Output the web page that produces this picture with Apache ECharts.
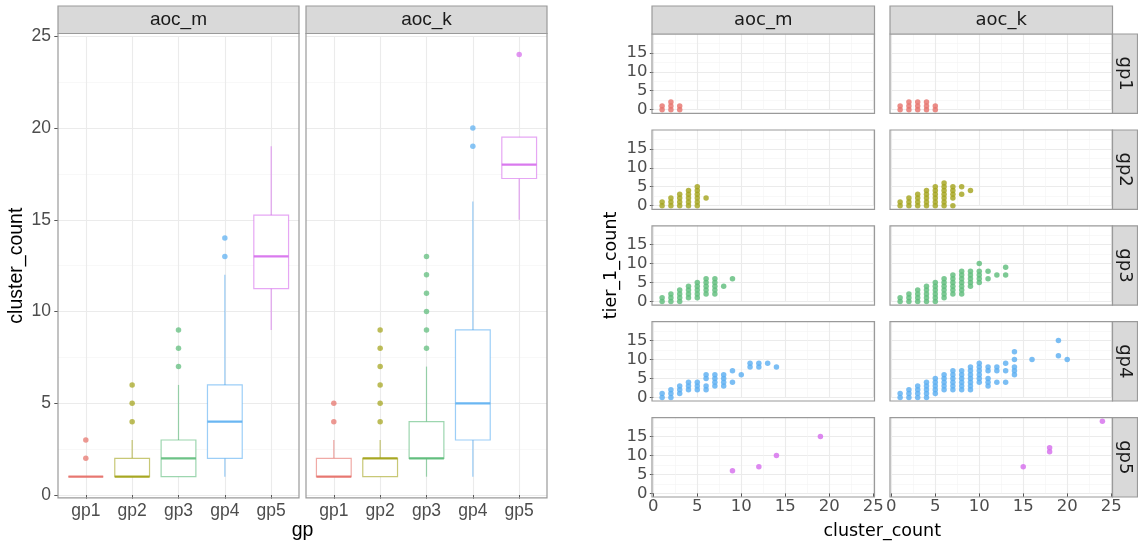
<!DOCTYPE html>
<html><head><meta charset="utf-8">
<script src="https://cdn.jsdelivr.net/npm/echarts@6/dist/echarts.min.js"></script>
<style>html,body{margin:0;padding:0;background:#fff}#c{width:1138px;height:547px}</style>
</head><body><div id="c"></div>
<script>
// ---------------- DATA ----------------
const groups = ['gp1','gp2','gp3','gp4','gp5'];
const facets = ['aoc_m','aoc_k'];
const groupColors = ['#E6716A','#A3A31A','#5CBB79','#5AAEF1','#D56CEC'];
const boxYTicks = [0,5,10,15,20,25];
const scatterXTicks = [0,5,10,15,20,25];
const scatterYTicks = [0,5,10,15];

// boxplot stats per group: [lower whisker, Q1, median, Q3, upper whisker]
const boxAocM = [[1,1,1,1,1],[1,1,1,2,3],[1,1,2,3,6],[1,2,4,6,12],[9,11.25,13,15.25,19]];
const boxAocK = [[1,1,1,2,3],[1,1,2,2,3],[1,2,2,4,7],[1,3,5,9,16],[15,17.25,18,19.5,19.5]];
// outliers: [group index, cluster_count]
const outAocM = [[0,2],[0,3],[1,4],[1,5],[1,6],[2,7],[2,8],[2,9],[3,13],[3,14]];
const outAocK = [[0,4],[0,5],[1,4],[1,5],[1,6],[1,7],[1,8],[1,9],[2,8],[2,9],[2,10],[2,11],[2,12],[2,13],[3,19],[3,20],[4,24]];

// scatter: [cluster_count, tier_1_count]
const m_gp1 = [[1,0],[1,1],[2,0],[2,1],[2,2],[3,0],[3,1]];
const k_gp1 = [[1,0],[1,1],[2,0],[2,1],[2,2],[3,0],[3,1],[3,2],[4,0],[4,1],[4,2],[5,0],[5,1]];
const m_gp2 = [[1,0],[1,1],[2,0],[2,1],[2,2],[3,0],[3,1],[3,2],[3,3],[4,0],[4,1],[4,2],[4,3],[4,4],
  [5,0],[5,1],[5,2],[5,3],[5,4],[5,5],[6,2]];
const k_gp2 = [[1,0],[1,1],[2,0],[2,1],[2,2],[3,0],[3,1],[3,2],[3,3],[4,0],[4,1],[4,2],[4,3],[4,4],
  [5,0],[5,1],[5,2],[5,3],[5,4],[5,5],[6,0],[6,1],[6,2],[6,3],[6,4],[6,5],[6,6],
  [7,0],[7,2],[7,3],[7,4],[7,5],[8,3],[8,5],[9,4]];
const m_gp3 = [[1,0],[1,1],[2,0],[2,1],[2,2],[3,0],[3,1],[3,2],[3,3],[4,1],[4,2],[4,3],[4,4],
  [5,1],[5,2],[5,3],[5,4],[5,5],[6,2],[6,3],[6,4],[6,5],[6,6],[7,2],[7,3],[7,4],[7,5],[7,6],[8,4],[9,6]];
const k_gp3 = [[1,0],[1,1],[2,0],[2,1],[2,2],[3,0],[3,1],[3,2],[3,3],[4,0],[4,1],[4,2],[4,3],[4,4],
  [5,0],[5,1],[5,2],[5,3],[5,4],[5,5],[6,1],[6,2],[6,3],[6,4],[6,5],[6,6],
  [7,2],[7,3],[7,4],[7,5],[7,6],[7,7],[8,2],[8,3],[8,4],[8,5],[8,6],[8,7],[8,8],
  [9,4],[9,5],[9,6],[9,7],[9,8],[10,5],[10,6],[10,7],[10,8],[10,10],[11,6],[11,8],[12,7],[13,7],[13,9]];
const m_gp4 = [[1,0],[1,1],[2,0],[2,1],[2,2],[3,1],[3,2],[3,3],[4,2],[4,3],[4,4],[5,2],[5,3],[5,4],
  [6,2],[6,3],[6,5],[6,6],[7,3],[7,4],[7,5],[7,6],[8,3],[8,4],[8,5],[8,6],[9,4],[9,7],[10,6],
  [11,8],[11,9],[12,8],[12,9],[13,9],[14,8]];
const k_gp4 = [[1,0],[1,1],[2,0],[2,1],[2,2],[3,0],[3,1],[3,2],[3,3],[4,0],[4,1],[4,2],[4,3],[4,4],
  [5,1],[5,2],[5,3],[5,4],[5,5],[6,2],[6,3],[6,4],[6,5],[6,6],[7,2],[7,3],[7,4],[7,5],[7,6],[7,7],
  [8,2],[8,3],[8,4],[8,5],[8,6],[8,7],[9,2],[9,3],[9,4],[9,5],[9,6],[9,7],[9,8],
  [10,4],[10,5],[10,6],[10,7],[10,8],[10,9],[11,3],[11,4],[11,5],[11,7],[11,8],[12,4],[12,7],[12,8],
  [13,4],[13,7],[13,9],[14,6],[14,7],[14,8],[14,10],[14,12],[16,10],[19,11],[19,15],[20,10]];
const m_gp5 = [[9,6],[12,7],[14,10],[19,15]];
const k_gp5 = [[15,7],[18,11],[18,12],[24,19]];
const scatterRows = [[m_gp1,k_gp1],[m_gp2,k_gp2],[m_gp3,k_gp3],[m_gp4,k_gp4],[m_gp5,k_gp5]];

// ---------------- LAYOUT ----------------
const LEFT = {colX:[58,306], w:241, top:33.5, bottom:497.8, yLo:-0.15, yHi:25.15, stripTop:6};
const RIGHT = {colX:[652,890], w:222.5, rowY:[34,130,225.8,321.7,417.7], h:79.3,
  xLo:-0.15, xHi:25.15, yLo:-0.95, yHi:19.95, stripTop:6, rStripW:25};
const LFONT = 'Liberation Sans, Arial, sans-serif';
const RFONT = 'DejaVu Sans, sans-serif';
const TICKCOL = '#4D4D4D', BORDER = '#9A9A9A', STRIPFILL = '#D9D9D9', GRIDMAJ = '#EBEBEB', GRIDMIN = '#F4F4F4';

function rgba(hex,a){const n=parseInt(hex.slice(1),16);return 'rgba('+(n>>16)+','+((n>>8)&255)+','+(n&255)+','+a+')';}

const grids=[], xAxes=[], yAxes=[], series=[], graphics=[];

// ---- left boxplot facets ----
const lyPU = (LEFT.bottom-LEFT.top)/(LEFT.yHi-LEFT.yLo);
const lGridTop = LEFT.top + (LEFT.yHi-25)*lyPU;
const lGridH = 25*lyPU;
const bandW = LEFT.w/5.2;
facets.forEach((f,fi)=>{
  const px = LEFT.colX[fi];
  grids.push({left:px, top:lGridTop, width:LEFT.w, height:lGridH});
  xAxes.push({gridIndex:grids.length-1, type:'value', min:0, max:1, show:false});
  yAxes.push({gridIndex:grids.length-1, type:'value', min:boxYTicks[0], max:boxYTicks[boxYTicks.length-1], interval:5,
    axisLine:{show:false},
    axisTick:{show:fi===0, length:3.7, lineStyle:{color:'#555', width:1}},
    axisLabel:{show:fi===0, margin:7, color:TICKCOL, fontSize:17.5, fontFamily:LFONT},
    splitLine:{show:true, lineStyle:{color:GRIDMAJ, width:1.1}},
    minorTick:{show:false, splitNumber:2},
    minorSplitLine:{show:true, lineStyle:{color:GRIDMIN, width:0.6}}});
  grids.push({left:px+0.1*bandW, top:lGridTop, width:5*bandW, height:lGridH});
  const gi = grids.length-1;
  xAxes.push({gridIndex:gi, type:'category', data:groups, offset:LEFT.bottom-(lGridTop+lGridH),
    axisLine:{show:false},
    axisTick:{show:true, alignWithLabel:true, length:3.7, lineStyle:{color:'#555', width:1}},
    axisLabel:{margin:4, color:TICKCOL, fontSize:17.5, fontFamily:LFONT},
    splitLine:{show:true, alignWithLabel:true, lineStyle:{color:GRIDMAJ, width:1.1}}});
  yAxes.push({gridIndex:gi, type:'value', min:0, max:25, show:false, splitLine:{show:false}});
  const stats = fi===0 ? boxAocM : boxAocK;
  const outs = fi===0 ? outAocM : outAocK;
  series.push({type:'custom', xAxisIndex:gi, yAxisIndex:gi, z:3, silent:true,
    data: stats.map((s,i)=>[i].concat(s)),
    encode:{x:0, y:[1,2,3,4,5]},
    renderItem:function(params, api){
      const i = api.value(0);
      const col = groupColors[i];
      const bw = api.size([1,0])[0]*0.75;
      const cx = api.coord([i, api.value(1)])[0];
      const yLo = api.coord([i, api.value(1)])[1];
      const yQ1 = api.coord([i, api.value(2)])[1];
      const yMed = api.coord([i, api.value(3)])[1];
      const yQ3 = api.coord([i, api.value(4)])[1];
      const yHi = api.coord([i, api.value(5)])[1];
      const st = {stroke:rgba(col,0.6), lineWidth:1.2};
      return {type:'group', children:[
        {type:'line', shape:{x1:cx,y1:yHi,x2:cx,y2:yQ3}, style:st},
        {type:'line', shape:{x1:cx,y1:yQ1,x2:cx,y2:yLo}, style:st},
        {type:'rect', shape:{x:cx-bw/2,y:yQ3,width:bw,height:yQ1-yQ3}, style:{fill:'#fff', stroke:rgba(col,0.6), lineWidth:1.2}},
        {type:'line', shape:{x1:cx-bw/2,y1:yMed,x2:cx+bw/2,y2:yMed}, style:{stroke:rgba(col,0.9), lineWidth:2.2}}
      ]};
    }});
  series.push({type:'scatter', xAxisIndex:gi, yAxisIndex:gi, z:4, silent:true, symbolSize:5.5,
    data: outs.map(o=>({value:o, itemStyle:{color:rgba(groupColors[o[0]],0.9)}}))});
  graphics.push({type:'rect', z:100, silent:true, shape:{x:px, y:LEFT.top, width:LEFT.w, height:LEFT.bottom-LEFT.top},
    style:{fill:null, stroke:BORDER, lineWidth:1.2}});
  graphics.push({type:'rect', z:100, silent:true, shape:{x:px, y:LEFT.stripTop, width:LEFT.w, height:LEFT.top-LEFT.stripTop},
    style:{fill:STRIPFILL, stroke:BORDER, lineWidth:1.2}});
  graphics.push({type:'text', z:101, silent:true, x:px+LEFT.w/2, y:(LEFT.stripTop+LEFT.top)/2,
    style:{text:f, align:'center', verticalAlign:'middle', fill:'#1A1A1A', fontSize:19, fontFamily:LFONT}});
});
graphics.push({type:'text', z:101, silent:true, x:17, y:(LEFT.top+LEFT.bottom)/2, rotation:Math.PI/2,
  style:{text:'cluster_count', align:'center', verticalAlign:'middle', fill:'#000', fontSize:19.5, fontFamily:LFONT}});
graphics.push({type:'text', z:101, silent:true, x:(LEFT.colX[0]+LEFT.colX[1]+LEFT.w)/2, y:531,
  style:{text:'gp', align:'center', verticalAlign:'middle', fill:'#000', fontSize:19.5, fontFamily:LFONT}});

// ---- right scatter facets ----
const rxPU = RIGHT.w/(RIGHT.xHi-RIGHT.xLo);
const ryPU = RIGHT.h/(RIGHT.yHi-RIGHT.yLo);
scatterRows.forEach((row,r)=>{
  const py = RIGHT.rowY[r];
  row.forEach((pts,c)=>{
    const px = RIGHT.colX[c];
    const gLeft = px + (0-RIGHT.xLo)*rxPU;
    const gTop = py + (RIGHT.yHi-20)*ryPU;
    grids.push({left:gLeft, top:gTop, width:25*rxPU, height:20*ryPU});
    const gi = grids.length-1;
    const gBottom = gTop + 20*ryPU;
    xAxes.push({gridIndex:gi, type:'value', min:scatterXTicks[0], max:scatterXTicks[scatterXTicks.length-1], interval:5,
      offset: r===4 ? (py+RIGHT.h-gBottom) : 0,
      axisLine:{show:false},
      axisTick:{show:r===4, length:3.5, lineStyle:{color:'#555', width:1}},
      axisLabel:{show:r===4, margin:1.5, color:TICKCOL, fontSize:16.5, fontFamily:RFONT},
      splitLine:{show:true, lineStyle:{color:GRIDMAJ, width:1.1}},
      minorTick:{show:false, splitNumber:2},
      minorSplitLine:{show:true, lineStyle:{color:GRIDMIN, width:0.6}}});
    yAxes.push({gridIndex:gi, type:'value', min:0, max:20, interval:5,
      offset: c===0 ? (gLeft-px) : 0,
      axisLine:{show:false},
      axisTick:{show:c===0, length:3.5, customValues:scatterYTicks, lineStyle:{color:'#555', width:1}},
      axisLabel:{show:c===0, margin:4.5, customValues:scatterYTicks, color:TICKCOL, fontSize:16.5, fontFamily:RFONT,
        formatter:v=> scatterYTicks.indexOf(v)>=0 ? String(v) : ''},
      splitLine:{show:true, lineStyle:{color:GRIDMAJ, width:1.1}},
      minorTick:{show:false, splitNumber:2},
      minorSplitLine:{show:true, lineStyle:{color:GRIDMIN, width:0.6}}});
    series.push({type:'scatter', xAxisIndex:gi, yAxisIndex:gi, z:4, silent:true, symbolSize:5.5,
      itemStyle:{color:groupColors[r]}, data:pts});
    graphics.push({type:'rect', z:100, silent:true, shape:{x:px, y:py, width:RIGHT.w, height:RIGHT.h},
      style:{fill:null, stroke:BORDER, lineWidth:1.2}});
    if (r===0) {
      graphics.push({type:'rect', z:100, silent:true, shape:{x:px, y:RIGHT.stripTop, width:RIGHT.w, height:py-RIGHT.stripTop},
        style:{fill:STRIPFILL, stroke:BORDER, lineWidth:1.2}});
      graphics.push({type:'text', z:101, silent:true, x:px+RIGHT.w/2, y:(RIGHT.stripTop+py)/2,
        style:{text:facets[c], align:'center', verticalAlign:'middle', fill:'#1A1A1A', fontSize:18, fontFamily:RFONT}});
    }
    if (c===1) {
      const sx = px+RIGHT.w;
      graphics.push({type:'rect', z:100, silent:true, shape:{x:sx, y:py, width:RIGHT.rStripW, height:RIGHT.h},
        style:{fill:STRIPFILL, stroke:BORDER, lineWidth:1.2}});
      graphics.push({type:'text', z:101, silent:true, x:sx+RIGHT.rStripW/2, y:py+RIGHT.h/2, rotation:-Math.PI/2,
        style:{text:groups[r], align:'center', verticalAlign:'middle', fill:'#1A1A1A', fontSize:18, fontFamily:RFONT}});
    }
  });
});
graphics.push({type:'text', z:101, silent:true, x:611, y:(RIGHT.rowY[0]+RIGHT.rowY[4]+RIGHT.h)/2, rotation:Math.PI/2,
  style:{text:'tier_1_count', align:'center', verticalAlign:'middle', fill:'#000', fontSize:17.5, fontFamily:RFONT}});
graphics.push({type:'text', z:101, silent:true, x:(RIGHT.colX[0]+RIGHT.colX[1]+RIGHT.w)/2, y:531,
  style:{text:'cluster_count', align:'center', verticalAlign:'middle', fill:'#000', fontSize:17.5, fontFamily:RFONT}});

const chart = echarts.init(document.getElementById('c'), null, {renderer:'canvas'});
chart.setOption({
  animation:false,
  backgroundColor:'#fff',
  grid:grids, xAxis:xAxes, yAxis:yAxes, series:series,
  graphic:{elements:graphics}
});
</script></body></html>
